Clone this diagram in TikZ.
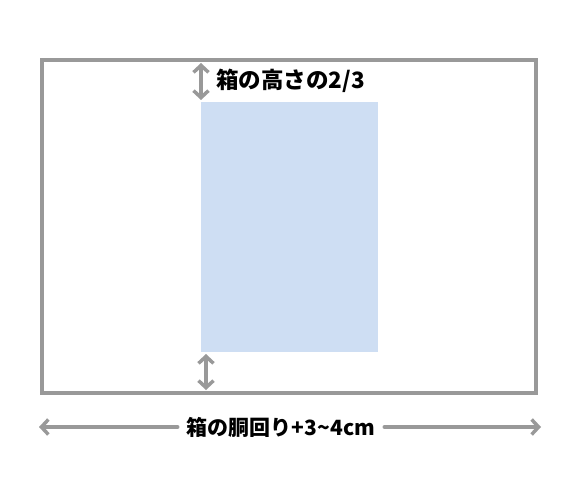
\documentclass[tikz,border=0pt]{standalone}
\usepackage{fontspec}
\setmainfont{Noto Sans CJK JP}
\usetikzlibrary{arrows.meta}

\begin{document}
\begin{tikzpicture}[x=1pt,y=-1pt,line cap=round]
    \tikzstyle{outline}=[draw=black!40,line width=3.5pt,minimum width=494pt,minimum height=333pt,inner sep=0pt,outer sep=0pt]
    \tikzstyle{paper}=[fill=paperblue,minimum width=177pt,minimum height=250pt,inner sep=0pt,outer sep=0pt]
    \tikzstyle{dim}=[draw=black!40,line width=3.5pt,{Straight Barb[length=7pt,width=15pt]}-{Straight Barb[length=7pt,width=15pt]}]
    \tikzstyle{label}=[font=\fontsize{21}{25}\selectfont\bfseries,inner sep=9pt]
    \definecolor{paperblue}{HTML}{CEDEF3}
    \useasboundingbox (0,0) rectangle (580,500);

    \node[outline] (box) at (289,226.5) {};
    \node[paper] (paper) at (289.5,227) {};

        % height margins
        \coordinate (top-a) at (201,63);
        \coordinate (top-b) at (201,100);
        \coordinate (bot-a) at (206,354);
        \coordinate (bot-b) at (206,390);
        \foreach \from/\to in {top-a/top-b, bot-a/bot-b}
            \draw[dim] (\from) -- (\to);
        \node[label,font=\fontsize{22.5}{26}\selectfont\bfseries,anchor=west,inner sep=0pt] (height) at (216,81) {箱の高さの2/3};

        % girth
        \coordinate (left) at (39,427);
        \coordinate (right) at (541,427);
        \node[label] (girth) at (281,427) {箱の胴回り+3\textasciitilde4cm};
        \draw[dim,-{Straight Barb[length=7pt,width=15pt]}] (girth) -- (right);
        \draw[dim,-{Straight Barb[length=7pt,width=15pt]}] (girth) -- (left);
\end{tikzpicture}
\end{document}
